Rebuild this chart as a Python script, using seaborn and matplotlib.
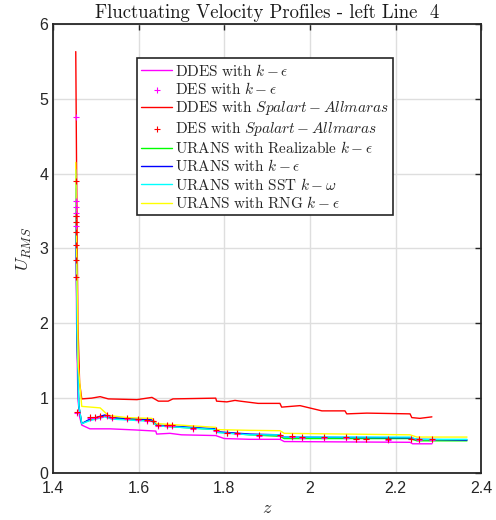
import numpy as np
import pandas as pd
import matplotlib
matplotlib.use("Agg")
import matplotlib.pyplot as plt
import seaborn as sns

# ---------------- data ----------------
ddes_keps_z = [1.453, 1.455, 1.458, 1.462, 1.467, 1.486, 1.533, 1.592, 1.640, 1.642, 1.673, 1.700,
               1.780, 1.800, 1.860, 1.930, 1.940, 2.234, 2.240, 2.285]
ddes_keps_u = [3.50, 2.00, 1.00, 0.75, 0.64, 0.59, 0.59, 0.575, 0.56, 0.52, 0.53, 0.51,
               0.50, 0.46, 0.45, 0.45, 0.42, 0.41, 0.39, 0.39]

ddes_sa_z = [1.453, 1.455, 1.458, 1.462, 1.467, 1.490, 1.510, 1.529, 1.596, 1.631, 1.646, 1.669,
             1.680, 1.780, 1.782, 1.806, 1.825, 1.837, 1.879, 1.930, 1.934, 1.977, 2.028, 2.082,
             2.086, 2.133, 2.234, 2.238, 2.257, 2.285]
ddes_sa_u = [5.63, 4.00, 2.00, 1.20, 0.99, 1.00, 1.02, 0.99, 0.98, 1.01, 0.96, 0.96,
             0.99, 1.00, 0.96, 0.95, 0.97, 0.96, 0.93, 0.93, 0.88, 0.90, 0.83, 0.83,
             0.79, 0.80, 0.79, 0.74, 0.73, 0.75]

des_keps_z = [1.453, 1.453, 1.453, 1.453, 1.453, 1.453, 1.455, 1.486, 1.498, 1.510, 1.525, 1.537,
              1.572, 1.599, 1.619, 1.634, 1.646, 1.666, 1.677, 1.728, 1.780, 1.806, 1.829,
              1.880, 1.930, 1.958, 1.981, 2.032, 2.085, 2.108, 2.131, 2.183, 2.236, 2.256, 2.285]
des_keps_u = [4.76, 3.64, 3.56, 3.48, 3.44, 3.30, 0.80, 0.74, 0.74, 0.75, 0.76, 0.74,
              0.72, 0.71, 0.70, 0.69, 0.63, 0.63, 0.63, 0.59, 0.565, 0.53, 0.52,
              0.50, 0.50, 0.48, 0.47, 0.47, 0.47, 0.45, 0.45, 0.44, 0.45, 0.44, 0.44]

des_sa_z = [1.453, 1.453, 1.453, 1.453, 1.453, 1.453, 1.453, 1.455, 1.486, 1.498, 1.510, 1.525,
            1.537, 1.572, 1.599, 1.619, 1.634, 1.646, 1.666, 1.677, 1.728, 1.780, 1.806, 1.829,
            1.880, 1.930, 1.958, 1.981, 2.032, 2.085, 2.108, 2.131, 2.183, 2.236, 2.256, 2.285]
des_sa_u = [3.90, 3.43, 3.35, 3.22, 3.04, 2.84, 2.62, 0.82, 0.75, 0.75, 0.76, 0.77,
            0.75, 0.73, 0.72, 0.71, 0.70, 0.64, 0.64, 0.64, 0.60, 0.575, 0.54, 0.53,
            0.51, 0.51, 0.49, 0.48, 0.48, 0.48, 0.46, 0.46, 0.45, 0.46, 0.45, 0.45]

urans_z = [1.453, 1.456, 1.460, 1.467, 1.486, 1.521, 1.537, 1.631, 1.642, 1.780, 1.785,
           1.860, 1.930, 1.940, 2.234, 2.250, 2.367]
urans_real_u = [3.95, 1.85, 0.90, 0.66, 0.71, 0.76, 0.73, 0.70, 0.63, 0.58, 0.545,
                0.51, 0.49, 0.46, 0.46, 0.43, 0.43]
urans_keps_u = [3.80, 1.80, 0.90, 0.66, 0.72, 0.775, 0.74, 0.71, 0.64, 0.59, 0.55,
                0.52, 0.51, 0.48, 0.47, 0.45, 0.44]
urans_sst_u = [4.05, 1.90, 0.90, 0.66, 0.70, 0.75, 0.72, 0.69, 0.63, 0.58, 0.54,
               0.51, 0.51, 0.48, 0.48, 0.45, 0.45]

urans_rng_z = [1.453, 1.455, 1.459, 1.467, 1.510, 1.529, 1.572, 1.631, 1.642, 1.780, 1.782,
               1.860, 1.930, 1.940, 2.234, 2.250, 2.367]
urans_rng_u = [4.15, 3.00, 1.42, 0.89, 0.87, 0.77, 0.74, 0.73, 0.66, 0.61, 0.58,
               0.57, 0.565, 0.53, 0.51, 0.48, 0.48]

x_ticks = [1.4, 1.6, 1.8, 2.0, 2.2, 2.4]
x_tick_labels = ["1.4", "1.6", "1.8", "2", "2.2", "2.4"]
y_ticks = [0, 1, 2, 3, 4, 5, 6]

title_text = "Fluctuating Velocity Profiles - left Line  4"
labels = [r"$\mathrm{DDES\ with\ }k-\epsilon$",
          r"$\mathrm{DES\ with\ }k-\epsilon$",
          r"$\mathrm{DDES\ with\ }Spalart-Allmaras$",
          r"$\mathrm{DES\ with\ }Spalart-Allmaras$",
          r"$\mathrm{URANS\ with\ Realizable\ }k-\epsilon$",
          r"$\mathrm{URANS\ with\ }k-\epsilon$",
          r"$\mathrm{URANS\ with\ SST\ }k-\omega$",
          r"$\mathrm{URANS\ with\ RNG\ }k-\epsilon$"]

# ---------------- plot ----------------
sns.set_style("white")
plt.rcParams["font.family"] = ["Liberation Sans", "DejaVu Sans"]
plt.rcParams["mathtext.fontset"] = "cm"

fig = plt.figure(figsize=(4.96, 5.2), dpi=100)
ax = fig.add_axes([0.107, 0.0904, 0.863, 0.8636])

lw = 1.0
ms = 18
mlw = 0.8
sns.lineplot(x=ddes_keps_z, y=ddes_keps_u, sort=False, estimator=None, color="#FF00FF",
             linewidth=lw, ax=ax, label=labels[0])
sns.scatterplot(x=des_keps_z, y=des_keps_u, marker="+", color="#FF00FF", s=ms,
                linewidth=mlw, ax=ax, label=labels[1], zorder=5)
sns.lineplot(x=ddes_sa_z, y=ddes_sa_u, sort=False, estimator=None, color="#FF0000",
             linewidth=lw, ax=ax, label=labels[2])
sns.scatterplot(x=des_sa_z, y=des_sa_u, marker="+", color="#FF0000", s=ms,
                linewidth=mlw, ax=ax, label=labels[3], zorder=6)
sns.lineplot(x=urans_z, y=urans_real_u, sort=False, estimator=None, color="#00FF00",
             linewidth=lw, ax=ax, label=labels[4])
sns.lineplot(x=urans_z, y=urans_keps_u, sort=False, estimator=None, color="#0000FF",
             linewidth=lw, ax=ax, label=labels[5])
sns.lineplot(x=urans_z, y=urans_sst_u, sort=False, estimator=None, color="#00FFFF",
             linewidth=lw, ax=ax, label=labels[6])
sns.lineplot(x=urans_rng_z, y=urans_rng_u, sort=False, estimator=None, color="#FFFF00",
             linewidth=lw, ax=ax, label=labels[7])

ax.set_xlim(1.4, 2.4)
ax.set_ylim(0, 6)
ax.set_xticks(x_ticks)
ax.set_xticklabels(x_tick_labels)
ax.set_yticks(y_ticks)
ax.grid(True, color="#DEDEDE", linewidth=1.0)
ax.set_axisbelow(True)
ax.tick_params(direction="in", length=4, width=1.0, colors="#262626", labelsize=11.5,
               top=True, right=True, labelcolor="#262626")
ax.tick_params(axis="x", pad=6)
for s in ax.spines.values():
    s.set_visible(True)
    s.set_color("#262626")
    s.set_linewidth(1.3)

ax.set_title(title_text, fontsize=13.5, pad=4, color="#1a1a1a",
             fontfamily=["cmr10", "DejaVu Serif"])
ax.set_xlabel("$z$", fontsize=13, color="#262626", labelpad=3)
ax.set_ylabel("$U_{RMS}$", fontsize=13, color="#262626", labelpad=4)

leg = ax.legend(loc="upper left", bbox_to_anchor=(0.276, 0.888), bbox_transform=fig.transFigure,
                borderaxespad=0, fancybox=False, frameon=True, fontsize=11,
                handlelength=2.0, handletextpad=0.2, labelspacing=0.15, borderpad=0.3,
                framealpha=1)
leg.get_frame().set_edgecolor("#262626")
leg.get_frame().set_linewidth(1.2)

fig.savefig("out.png", dpi=100)
